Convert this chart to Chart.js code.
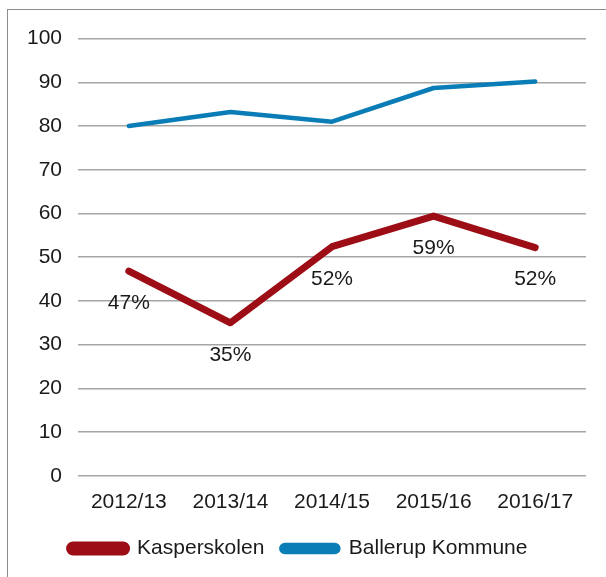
<!DOCTYPE html>
<html>
<head>
<meta charset="utf-8">
<script src="https://cdn.jsdelivr.net/npm/chart.js@4/dist/chart.umd.min.js"></script>
<style>
    html, body { margin: 0; padding: 0; background: #fff; }
    #frame {
        position: absolute; left: 7px; top: 9px;
        width: 610px; height: 580px;
        border: 1px solid #8c8c8c;
        box-sizing: border-box;
    }
    #wrap { position: absolute; left: 8px; top: 10px; width: 598px; height: 567px; }
</style>
</head>
<body>
<div id="frame"></div>
<div id="wrap"><canvas id="chart"></canvas></div>
<script>
const seasons = ['2012/13', '2013/14', '2014/15', '2015/16', '2016/17'];
const kasperskolen = [46.8, 35.0, 52.4, 59.4, 52.2];
const kasperLabels = ['47%', '35%', '52%', '59%', '52%'];
const ballerup = [80.0, 83.2, 81.0, 88.7, 90.2];
const yTicks = [0, 10, 20, 30, 40, 50, 60, 70, 80, 90, 100];

const FONT = "'Liberation Sans', Arial, sans-serif";

const pointLabels = {
    id: 'pointLabels',
    afterDatasetsDraw(chart) {
        const ctx = chart.ctx;
        const meta = chart.getDatasetMeta(0);
        ctx.save();
        ctx.font = `21px ${FONT}`;
        ctx.fillStyle = '#1a1a1a';
        ctx.textAlign = 'center';
        ctx.textBaseline = 'middle';
        meta.data.forEach((pt, i) => {
            ctx.fillText(kasperLabels[i], pt.x, pt.y + 32);
        });
        ctx.restore();
    }
};

new Chart(document.getElementById('chart'), {
    type: 'line',
    data: {
        labels: seasons,
        datasets: [
            {
                label: 'Kasperskolen',
                data: kasperskolen,
                borderColor: '#9d0d15',
                backgroundColor: '#9d0d15',
                borderWidth: 7,
                pointRadius: 0,
                tension: 0,
                borderCapStyle: 'round',
                borderJoinStyle: 'round'
            },
            {
                label: 'Ballerup Kommune',
                data: ballerup,
                borderColor: '#0a7db6',
                backgroundColor: '#0a7db6',
                borderWidth: 4.5,
                pointRadius: 0,
                tension: 0,
                borderCapStyle: 'round',
                borderJoinStyle: 'round'
            }
        ]
    },
    options: {
        responsive: true,
        maintainAspectRatio: false,
        animation: false,
        layout: { padding: { left: 3, right: 20, top: 20, bottom: 8 } },
        plugins: {
            legend: {
                position: 'bottom',
                labels: {
                    color: '#1a1a1a',
                    font: { family: FONT, size: 21 },
                    boxWidth: 57,
                    boxHeight: 7,
                    useBorderRadius: true,
                    borderRadius: 3.5,
                    padding: 17
                }
            },
            tooltip: { enabled: false }
        },
        scales: {
            x: {
                offset: true,
                grid: { display: false },
                border: { display: false },
                ticks: {
                    color: '#1a1a1a',
                    font: { family: FONT, size: 21 },
                    padding: 6,
                    maxRotation: 0
                }
            },
            y: {
                min: 0,
                max: 100,
                afterBuildTicks: axis => { axis.ticks = yTicks.map(v => ({ value: v })); },
                grid: { color: '#a6a6a6', lineWidth: 1.5, drawTicks: false },
                border: { display: false },
                ticks: {
                    color: '#1a1a1a',
                    font: { family: FONT, size: 21 },
                    padding: 16
                }
            }
        }
    },
    plugins: [pointLabels]
});
</script>
</body>
</html>
